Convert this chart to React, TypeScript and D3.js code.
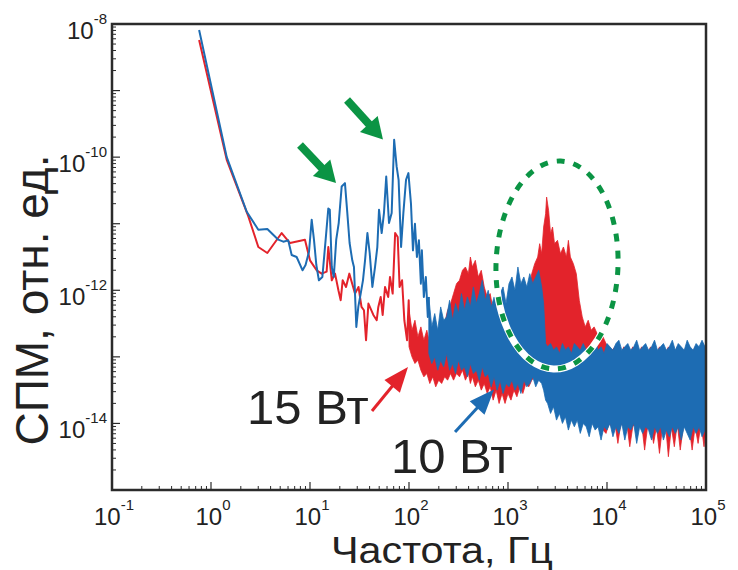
import React from 'react';
import * as d3 from 'd3';

// ---------- data (log10 frequency [Hz], log10 PSD) ----------
const xTickExps = [-1, 0, 1, 2, 3, 4, 5];
const yLabelExps = [-8, -10, -12, -14];

// sparse low-frequency part of the 10 W spectrum: [log10 f, log10 PSD]
const blueLine: number[][] = [
  [-0.12, -8.09], [0.159, -10.0], [0.361, -10.82], [0.478, -11.09], [0.569, -11.08], [0.68, -11.24],
  [0.73, -11.27], [0.78, -11.25], [0.815, -11.47], [0.865, -11.5], [0.925, -11.7], [0.955, -11.62],
  [0.99, -11.42], [1.017, -10.94], [1.04, -11.24], [1.064, -11.62], [1.09, -11.85], [1.125, -11.8],
  [1.158, -11.24], [1.185, -10.77], [1.2, -10.79], [1.22, -11.65], [1.24, -11.8], [1.265, -11.24],
  [1.29, -10.99], [1.32, -10.44], [1.353, -10.39], [1.377, -10.84], [1.4, -11.29], [1.427, -11.55],
  [1.444, -11.65], [1.468, -12.55], [1.488, -12.25], [1.512, -12.05], [1.535, -11.85], [1.556, -11.55],
  [1.58, -11.14], [1.603, -11.44], [1.63, -11.95], [1.657, -11.65], [1.68, -11.35], [1.697, -10.79],
  [1.724, -11.14], [1.747, -10.84], [1.77, -10.29], [1.798, -10.99], [1.825, -10.84], [1.85, -9.74],
  [1.875, -10.14], [1.895, -10.34], [1.92, -11.35], [1.943, -10.84], [1.97, -10.34], [1.994, -10.24],
  [2.02, -10.7], [2.04, -11.4], [2.06, -11.0], [2.08, -11.5], [2.10, -11.25], [2.12, -11.9],
  [2.13, -11.4], [2.15, -12.1], [2.17, -11.8], [2.19, -12.4], [2.20, -12.1],
];

// sparse low-frequency part of the 15 W spectrum
const redLine: number[][] = [
  [-0.12, -8.24], [0.159, -10.04], [0.377, -10.89], [0.478, -11.35], [0.569, -11.44], [0.714, -11.14],
  [0.798, -11.29], [0.949, -11.24], [1.0, -11.55], [1.067, -11.7], [1.118, -11.75], [1.168, -11.72],
  [1.185, -11.35], [1.22, -11.85], [1.253, -11.75], [1.287, -12.0], [1.31, -12.15], [1.33, -11.85],
  [1.364, -11.95], [1.397, -11.75], [1.43, -11.92], [1.455, -12.05], [1.49, -11.95], [1.52, -12.25],
  [1.545, -12.3], [1.566, -12.75], [1.59, -12.2], [1.64, -12.37], [1.674, -12.45], [1.69, -12.25],
  [1.714, -12.1], [1.734, -12.37], [1.758, -11.95], [1.79, -12.1], [1.808, -11.8], [1.835, -12.05],
  [1.86, -11.14], [1.886, -11.2], [1.905, -11.95], [1.93, -11.85], [1.953, -12.45], [1.98, -12.75],
  [1.997, -12.15], [2.01, -12.85],
];

// dense high-frequency part, per bin: [log10 f, upper log10 PSD, lower log10 PSD]
const blueBand: number[][] = [
  [2.20, -12.10, -12.95], [2.23, -12.55, -13.10], [2.26, -12.35, -13.00], [2.29, -12.60, -13.20],
  [2.32, -12.25, -13.05], [2.35, -12.45, -13.15], [2.38, -12.40, -12.95], [2.41, -12.15, -13.20],
  [2.44, -12.45, -13.10], [2.47, -12.20, -13.25], [2.50, -12.35, -13.05], [2.53, -12.05, -13.20],
  [2.56, -12.30, -13.15], [2.59, -12.10, -13.30], [2.62, -12.25, -13.10], [2.65, -11.95, -13.25],
  [2.68, -12.20, -13.20], [2.71, -12.05, -13.35], [2.74, -11.85, -13.15], [2.77, -12.15, -13.30],
  [2.80, -12.00, -13.25], [2.83, -12.25, -13.45], [2.86, -12.10, -13.30], [2.89, -12.30, -13.50],
  [2.92, -12.05, -13.35], [2.95, -11.95, -13.55], [2.98, -12.20, -13.40], [3.01, -11.90, -13.45],
  [3.04, -11.80, -13.35], [3.07, -12.00, -13.50], [3.10, -11.65, -13.40], [3.13, -11.90, -13.55],
  [3.16, -11.80, -13.35], [3.19, -11.95, -13.45], [3.22, -11.75, -13.40], [3.25, -11.90, -13.30],
  [3.28, -11.80, -13.45], [3.31, -11.70, -13.35], [3.34, -11.95, -13.40], [3.36, -12.20, -13.50],
  [3.38, -12.80, -13.65], [3.40, -12.85, -13.70], [3.43, -12.80, -13.85], [3.46, -12.90, -13.75],
  [3.49, -12.85, -13.95], [3.52, -12.95, -13.85], [3.55, -12.80, -14.00], [3.58, -12.90, -13.90],
  [3.61, -12.85, -14.10], [3.64, -12.95, -13.95], [3.67, -12.80, -14.05], [3.70, -12.85, -13.95],
  [3.73, -12.90, -14.15], [3.76, -12.80, -14.00], [3.79, -12.90, -14.05], [3.82, -12.85, -14.20],
  [3.85, -12.90, -14.00], [3.88, -12.75, -14.10], [3.91, -12.90, -14.05], [3.94, -12.85, -14.25],
  [3.97, -12.95, -14.05], [4.00, -12.80, -14.10], [4.03, -12.85, -14.00], [4.06, -12.90, -14.20],
  [4.09, -12.80, -14.05], [4.12, -12.75, -14.15], [4.15, -12.90, -14.00], [4.18, -12.85, -14.25],
  [4.21, -12.80, -14.05], [4.24, -12.90, -14.10], [4.27, -12.85, -14.00], [4.30, -12.75, -14.30],
  [4.33, -12.90, -14.05], [4.36, -12.85, -14.15], [4.39, -12.80, -14.05], [4.42, -12.90, -14.10],
  [4.45, -12.85, -14.25], [4.48, -12.75, -14.05], [4.51, -12.90, -14.15], [4.54, -12.85, -14.05],
  [4.57, -12.80, -14.25], [4.60, -12.90, -14.10], [4.63, -12.85, -14.20], [4.66, -12.75, -14.05],
  [4.69, -12.90, -14.15], [4.72, -12.80, -14.05], [4.75, -12.85, -14.25], [4.78, -12.90, -14.05],
  [4.81, -12.75, -14.15], [4.84, -12.85, -14.25], [4.87, -12.90, -14.05], [4.90, -12.80, -14.15],
  [4.93, -12.85, -14.05], [4.96, -12.75, -14.20], [4.99, -12.85, -14.10], [5.00, -12.80, -14.10],
];

const redBand: number[][] = [
  [2.00, -12.30, -12.85], [2.03, -12.60, -13.00], [2.06, -12.45, -13.10], [2.09, -12.70, -13.05],
  [2.12, -12.55, -13.20], [2.15, -12.75, -13.30], [2.18, -12.60, -13.25], [2.21, -12.80, -13.40],
  [2.24, -12.65, -13.30], [2.27, -12.90, -13.45], [2.30, -12.70, -13.35], [2.33, -12.60, -13.40],
  [2.36, -12.50, -13.30], [2.39, -12.30, -13.35], [2.42, -12.20, -13.25], [2.45, -12.05, -13.35],
  [2.48, -11.90, -13.25], [2.51, -11.85, -13.30], [2.54, -11.70, -13.20], [2.57, -11.65, -13.35],
  [2.60, -11.75, -13.25], [2.62, -11.50, -13.40], [2.64, -11.65, -13.30], [2.67, -11.55, -13.45],
  [2.70, -11.80, -13.35], [2.73, -11.70, -13.50], [2.76, -11.95, -13.40], [2.79, -12.10, -13.55],
  [2.82, -12.05, -13.45], [2.85, -12.30, -13.65], [2.88, -12.20, -13.50], [2.91, -12.40, -13.70],
  [2.94, -12.25, -13.55], [2.97, -12.40, -13.70], [3.00, -12.20, -13.55], [3.03, -12.35, -13.65],
  [3.06, -12.15, -13.50], [3.09, -12.25, -13.60], [3.12, -12.05, -13.45], [3.15, -12.15, -13.55],
  [3.18, -11.95, -13.40], [3.21, -12.00, -13.45], [3.24, -11.75, -13.35], [3.27, -11.60, -13.30],
  [3.30, -11.50, -13.25], [3.32, -11.30, -13.20], [3.34, -11.45, -13.15], [3.36, -11.05, -13.10],
  [3.38, -10.85, -13.10], [3.39, -10.60, -13.00], [3.41, -10.80, -13.05], [3.43, -11.15, -12.95],
  [3.45, -11.05, -13.00], [3.47, -11.30, -12.95], [3.50, -11.25, -13.05], [3.53, -11.45, -13.00],
  [3.56, -11.35, -13.10], [3.59, -11.50, -13.05], [3.61, -11.25, -13.15], [3.63, -11.50, -13.10],
  [3.66, -11.60, -13.20], [3.69, -11.75, -13.30], [3.72, -12.15, -13.40], [3.75, -12.40, -13.50],
  [3.78, -12.55, -13.60], [3.81, -12.45, -13.70], [3.84, -12.60, -13.80], [3.87, -12.55, -13.90],
  [3.90, -12.65, -14.00], [3.93, -12.75, -14.05], [3.96, -12.70, -14.10], [3.99, -12.80, -14.15],
  [4.02, -12.85, -14.00], [4.05, -12.90, -14.05], [4.08, -12.85, -14.00], [4.11, -12.90, -14.30],
  [4.14, -12.95, -14.00], [4.17, -12.85, -14.05], [4.20, -12.90, -14.00], [4.23, -12.95, -14.35],
  [4.26, -12.85, -14.05], [4.29, -12.90, -14.00], [4.32, -12.95, -14.05], [4.35, -12.85, -14.00],
  [4.38, -12.90, -14.40], [4.41, -12.95, -14.05], [4.44, -12.85, -14.00], [4.47, -12.90, -14.30],
  [4.50, -12.95, -14.05], [4.53, -12.85, -14.45], [4.56, -12.90, -14.05], [4.59, -12.95, -14.00],
  [4.62, -12.85, -14.50], [4.65, -12.90, -14.05], [4.68, -12.95, -14.35], [4.71, -12.85, -14.00],
  [4.74, -12.90, -14.40], [4.77, -12.95, -14.05], [4.80, -12.85, -14.00], [4.83, -12.90, -14.05],
  [4.86, -12.95, -14.40], [4.89, -12.85, -14.05], [4.92, -12.90, -14.30], [4.95, -12.95, -14.00],
  [4.98, -12.85, -14.35], [5.00, -12.90, -14.05],
];

// annotations in data units [log10 f, log10 PSD]
const greenArrows = [
  { from: [0.899, -9.818], to: [1.263, -10.388] },
  { from: [1.374, -9.142], to: [1.737, -9.735] },
];
const redArrow = { from: [1.626, -13.813], to: [1.99, -13.152] };
const blueArrow = { from: [2.465, -14.129], to: [2.859, -13.491] };
const ellipseCenter = [3.495, -11.62];
const label15 = { text: '15 Вт', at: [0.364, -14.01] };
const label10 = { text: '10 Вт', at: [1.818, -14.745] };

const RED = '#e3232b';
const BLUE = '#1d6cb3';
const GREEN = '#0b9444';
const AXIS = '#2b2b2b';
const FONT = "Arial, 'Liberation Sans', Helvetica, sans-serif";

export default function App() {
  const left = 112, right = 706, top = 24, bottom = 490;
  const x = d3.scaleLog().domain([0.1, 1e5]).range([left, right]);
  const y = d3.scaleLog().domain([1e-15, 1e-8]).range([bottom, top]);
  const px = (lf: number) => x(Math.pow(10, lf));
  const py = (lp: number) => y(Math.pow(10, lp));

  const line = d3.line<number[]>().x(d => px(d[0])).y(d => py(d[1]));
  const area = d3.area<number[]>().x(d => px(d[0])).y0(d => py(d[2])).y1(d => py(d[1]));

  const yMajor: number[] = d3.range(-15, -7);
  const yMinor: number[] = [];
  for (let e = -15; e < -8; e++) for (let k = 2; k <= 9; k++) yMinor.push(k * Math.pow(10, e));
  const xMinor: number[] = [];
  for (let e = -1; e < 5; e++) for (let k = 2; k <= 9; k++) xMinor.push(k * Math.pow(10, e));

  const arrow = (a: { from: number[]; to: number[] }, color: string, sw: number, hl: number, hw: number, key: string) => {
    const x0 = px(a.from[0]), y0 = py(a.from[1]);
    const x1 = px(a.to[0]), y1 = py(a.to[1]);
    const dx = x1 - x0, dy = y1 - y0;
    const L = Math.hypot(dx, dy);
    const ux = dx / L, uy = dy / L;
    const bx = x1 - ux * hl, by = y1 - uy * hl;
    const nx = -uy, ny = ux;
    const pts = `${x1},${y1} ${bx + nx * hw},${by + ny * hw} ${bx - nx * hw},${by - ny * hw}`;
    return (
      <g key={key}>
        <line x1={x0} y1={y0} x2={bx + ux * 2} y2={by + uy * 2} stroke={color} strokeWidth={sw} />
        <polygon points={pts} fill={color} />
      </g>
    );
  };

  const cx = px(ellipseCenter[0]), cy = py(ellipseCenter[1]);

  return (
    <svg width={738} height={570} style={{ position: 'absolute', left: 0, top: 0, background: '#fff' }}
      fontFamily={FONT}>
      <defs>
        <clipPath id="plotClip">
          <rect x={left} y={top} width={right - left} height={bottom - top} />
        </clipPath>
      </defs>
      <rect x={0} y={0} width={738} height={570} fill="#fff" />

      <g clipPath="url(#plotClip)">
        <path d={line(redLine) || ''} fill="none" stroke={RED} strokeWidth={2} strokeLinejoin="round" />
        <path d={area(redBand) || ''} fill={RED} stroke={RED} strokeWidth={0.8} />
        <path d={line(blueLine) || ''} fill="none" stroke={BLUE} strokeWidth={2} strokeLinejoin="round" />
        <path d={area(blueBand) || ''} fill={BLUE} stroke={BLUE} strokeWidth={0.8} />
      </g>

      {/* axes frame */}
      <rect x={left} y={top} width={right - left} height={bottom - top} fill="none" stroke={AXIS} strokeWidth={2.5} />

      {/* y ticks */}
      {yMajor.map(e => (
        <line key={'ym' + e} x1={left} x2={left + 8} y1={py(e)} y2={py(e)} stroke={AXIS} strokeWidth={1.2} />
      ))}
      {yMinor.map((v, i) => (
        <line key={'yn' + i} x1={left} x2={left + 4} y1={y(v)} y2={y(v)} stroke={AXIS} strokeWidth={1} />
      ))}
      {/* x ticks */}
      {xTickExps.map(e => (
        <line key={'xm' + e} x1={px(e)} x2={px(e)} y1={bottom} y2={bottom - 8} stroke={AXIS} strokeWidth={1.2} />
      ))}
      {xMinor.map((v, i) => (
        <line key={'xn' + i} x1={x(v)} x2={x(v)} y1={bottom} y2={bottom - 4} stroke={AXIS} strokeWidth={1} />
      ))}

      {/* y tick labels */}
      {yLabelExps.map(e => (
        <text key={'yl' + e} x={left - 5} y={py(e) + 15} textAnchor="end" fontSize={24} fill="#222">
          10<tspan fontSize={15} dy={-15}>{e}</tspan>
        </text>
      ))}
      {/* x tick labels */}
      {xTickExps.map(e => (
        <text key={'xl' + e} x={px(e) + 2} y={524.5} textAnchor="middle" fontSize={24} fill="#222">
          10<tspan fontSize={15} dy={-15}>{e}</tspan>
        </text>
      ))}

      {/* axis titles */}
      <text x={442} y={562.5} textAnchor="middle" fontSize={36} textLength={222}
        lengthAdjust="spacingAndGlyphs" fill="#222">Частота, Гц</text>
      <text transform="translate(48,300) rotate(-90)" textAnchor="middle" fontSize={46} fill="#222">
        СПМ, отн. ед.
      </text>

      {/* dashed ellipse */}
      <g transform={`translate(${cx},${cy}) rotate(2)`}>
        <ellipse rx={61} ry={104} fill="none" stroke="#fff" strokeWidth={7} />
        <ellipse rx={61} ry={104} fill="none" stroke={GREEN} strokeWidth={5} strokeDasharray="8 9" />
      </g>

      {/* arrows */}
      {greenArrows.map((a, i) => arrow(a, GREEN, 8, 21, 12, 'g' + i))}
      {arrow(redArrow, RED, 3, 25, 10, 'r')}
      {arrow(blueArrow, BLUE, 3, 25, 10, 'b')}

      {/* power labels */}
      <text x={px(label15.at[0])} y={py(label15.at[1])} fontSize={49} fill="#222">{label15.text}</text>
      <text x={px(label10.at[0])} y={py(label10.at[1])} fontSize={49} fill="#222">{label10.text}</text>
    </svg>
  );
}
